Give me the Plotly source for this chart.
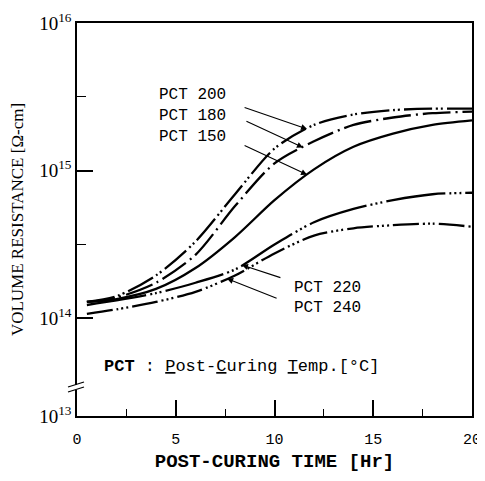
import numpy as np
import plotly.graph_objects as go

# Post-curing time [Hr]
hours = [0.5, 2, 4, 6, 8, 10, 12, 14, 16, 18, 20]

# Volume resistance [ohm-cm]
pct_200 = [1.29e14, 1.41e14, 1.95e14, 3.31e14, 6.92e14, 1.41e15, 2.04e15, 2.40e15, 2.57e15, 2.63e15, 2.63e15]
pct_180 = [1.29e14, 1.38e14, 1.74e14, 2.69e14, 5.75e14, 1.12e15, 1.58e15, 2.04e15, 2.29e15, 2.45e15, 2.51e15]
pct_150 = [1.29e14, 1.35e14, 1.58e14, 2.19e14, 3.55e14, 6.31e14, 1.02e15, 1.45e15, 1.78e15, 2.04e15, 2.19e15]
pct_220 = [1.23e14, 1.32e14, 1.48e14, 1.74e14, 2.14e14, 3.16e14, 4.47e14, 5.50e14, 6.31e14, 6.92e14, 7.08e14]
pct_240 = [1.07e14, 1.15e14, 1.29e14, 1.51e14, 1.95e14, 2.75e14, 3.63e14, 4.07e14, 4.27e14, 4.37e14, 4.17e14]

series_names = ["PCT 200", "PCT 180", "PCT 150", "PCT 220", "PCT 240"]
series_values = [pct_200, pct_180, pct_150, pct_220, pct_240]
series_dash = ["28px,4px,2px,3px,2px,4px", "28px,5px,2px,5px", "solid",
               "60px,4px,2px,3px,2px,3px,2px,4px", "26px,4px,2px,3px,2px,3px,2px,4px"]

x_ticks = [0, 5, 10, 15, 20]
x_minor = [2.5, 7.5, 12.5, 17.5]
y_bottom = 10 ** 13.338  # broken-axis bottom shown as 10^13
y_ticks = [y_bottom, 1e14, 1e15, 1e16]
y_ticktext = ["10<sup>13</sup>", "10<sup>14</sup>", "10<sup>15</sup>", "10<sup>16</sup>"]
y_minor = [10 ** 14.5, 10 ** 15.5]

# arrows: (series index, hour on curve, ax, ay)
arrows = [(0, 11.65, -64, -22), (1, 11.44, -58, -27), (2, 11.65, -64, -30),
          (3, 8.35, 40, 13), (4, 7.6, 51, 20)]

fig = go.Figure()
for name, vals, dash in zip(series_names, series_values, series_dash):
    fig.add_trace(go.Scatter(x=hours, y=vals, mode="lines", name=name,
                             line=dict(color="black", width=2.3, dash=dash, shape="spline", smoothing=0.8)))

annotations = []
for idx, t, ax, ay in arrows:
    logv = np.interp(t, hours, np.log10(series_values[idx]))
    annotations.append(dict(x=t, y=float(logv), xref="x", yref="y", text="", showarrow=True,
                            ax=ax, ay=ay, arrowhead=2, arrowsize=1.1, arrowwidth=1.1, arrowcolor="black"))

label_font = dict(family="Liberation Mono, Courier New, monospace", size=16, color="black")
labels = [("PCT 200", 0.2025, 0.817), ("PCT 180", 0.2025, 0.763), ("PCT 150", 0.2025, 0.710),
          ("PCT 220", 0.544, 0.326), ("PCT 240", 0.544, 0.275)]
for txt, xp, yp in labels:
    annotations.append(dict(x=xp, y=yp, xref="paper", yref="paper", text=txt, showarrow=False,
                            xanchor="left", yanchor="middle", font=label_font))

annotations.append(dict(x=0.063, y=0.125, xref="paper", yref="paper",
                        text="<b>PCT</b> : <u>P</u>ost-<u>C</u>uring <u>T</u>emp.[°C]",
                        showarrow=False, xanchor="left", yanchor="middle",
                        font=dict(family="Liberation Mono, Courier New, monospace", size=17, color="black")))

# axis break marks
px2x = lambda p: (p - 77) / 395
py2y = lambda p: (416 - p) / 393
shapes = [
    dict(type="rect", xref="paper", yref="paper", x0=px2x(74), x1=px2x(80), y0=py2y(390), y1=py2y(385),
         fillcolor="white", line=dict(width=0), layer="above"),
    dict(type="line", xref="paper", yref="paper", x0=px2x(68), y0=py2y(387), x1=px2x(84), y1=py2y(382),
         line=dict(color="black", width=1.3)),
    dict(type="line", xref="paper", yref="paper", x0=px2x(68), y0=py2y(392), x1=px2x(84), y1=py2y(387),
         line=dict(color="black", width=1.3)),
]

# page body has an 8px margin, so the figure is sized/offset to land on the same pixels
fig.update_layout(
    width=477, height=465,
    margin=dict(l=69, r=13, t=15, b=57, autoexpand=False),
    paper_bgcolor="white", plot_bgcolor="white",
    showlegend=False,
    annotations=annotations,
    shapes=shapes,
    xaxis=dict(range=[0, 20], tickvals=x_ticks, ticks="inside", ticklen=16, tickwidth=1.5,
               tickcolor="black", showline=True, linecolor="black", linewidth=1.5, mirror=True,
               showgrid=False, zeroline=False, ticklabelstandoff=8, automargin=False,
               ticklabeloverflow="allow",
               tickfont=dict(family="Liberation Mono, Courier New, monospace", size=15, color="black"),
               minor=dict(tickvals=x_minor, ticks="inside", ticklen=7, tickcolor="black", tickwidth=1.2),
               title=dict(text="<b>POST-CURING TIME [Hr]</b>", standoff=14,
                          font=dict(family="Liberation Mono, Courier New, monospace", size=19, color="black"))),
    yaxis=dict(type="log", range=[13.338, 16.0], tickvals=y_ticks, ticktext=y_ticktext,
               ticks="inside", ticklen=16, tickwidth=1.5, tickcolor="black",
               showline=True, linecolor="black", linewidth=1.5, mirror=True,
               showgrid=False, zeroline=False, automargin=False,
               tickfont=dict(family="Liberation Serif, Times New Roman, serif", size=19, color="black"),
               minor=dict(tickvals=y_minor, ticks="inside", ticklen=9, tickcolor="black", tickwidth=1.2),
               title=dict(text="VOLUME RESISTANCE [Ω-cm]", standoff=12,
                          font=dict(family="Liberation Serif, Times New Roman, serif", size=17, color="black"))),
)

fig.write_html("out.html")
